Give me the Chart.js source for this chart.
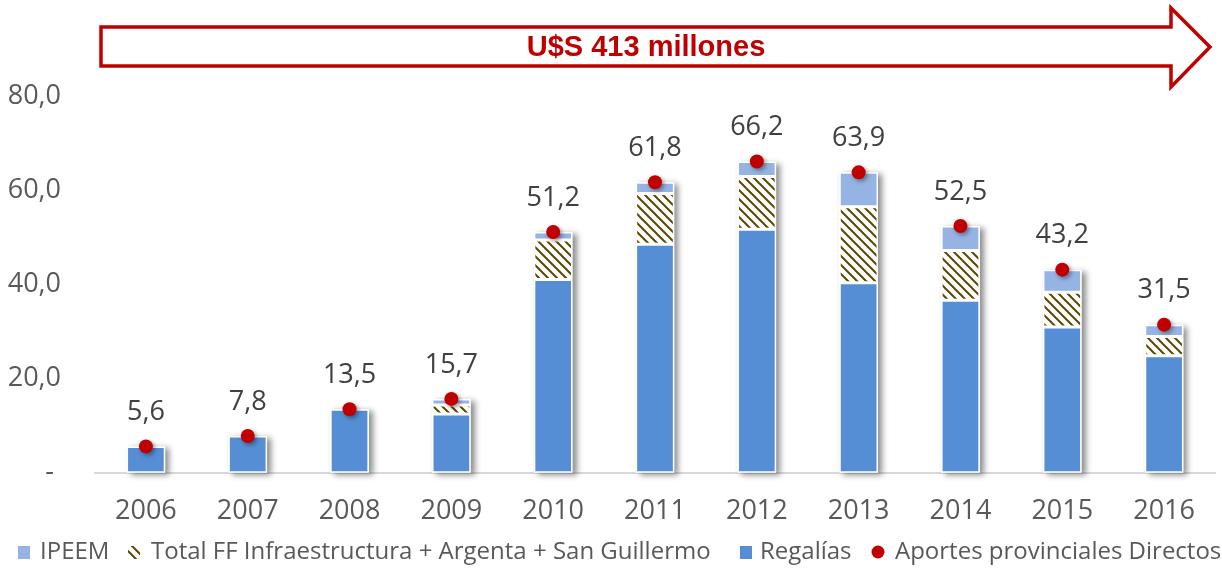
<!DOCTYPE html>
<html>
<head>
<meta charset="utf-8">
<script src="https://cdn.jsdelivr.net/npm/chart.js@4.4.1/dist/chart.umd.min.js"></script>
<style>
  html, body { margin: 0; padding: 0; background: #fff; }
  #wrap { width: 1222px; height: 568px; position: relative; }
</style>
</head>
<body>
<div id="wrap"><canvas id="chart"></canvas></div>
<script>
const years = ['2006', '2007', '2008', '2009', '2010', '2011', '2012', '2013', '2014', '2015', '2016'];
const regalias = [5.6, 7.8, 13.5, 12.5, 41.1, 48.6, 51.8, 40.4, 36.7, 31.0, 24.9];
const totalFF = [null, null, null, 1.9, 8.4, 10.8, 11.2, 16.2, 10.6, 7.4, 4.1];
const ipeem = [null, null, null, 1.3, 1.7, 2.4, 3.2, 7.3, 5.2, 4.8, 2.5];
const aportes = [5.6, 7.8, 13.5, 15.7, 51.2, 61.8, 66.2, 63.9, 52.5, 43.2, 31.5];
const yTicks = [0, 20, 40, 60, 80];
const bannerText = 'U$S 413 millones';

const BLUE = '#558ed5';
const LIGHT = '#95b3e3';
const RED = '#c00000';
const FONT = "'Open Sans', sans-serif";

// diagonal hatch like the Excel "dark downward diagonal" fill
function makeHatch(ctx) {
  const p = document.createElement('canvas');
  p.width = 9; p.height = 9;
  const g = p.getContext('2d');
  g.fillStyle = '#fff';
  g.fillRect(0, 0, 9, 9);
  g.strokeStyle = '#5a4800';
  g.lineWidth = 2;
  g.beginPath();
  g.moveTo(-1, -1); g.lineTo(10, 10);
  g.moveTo(-1, 8); g.lineTo(1, 10);
  g.moveTo(8, -1); g.lineTo(10, 1);
  g.stroke();
  return ctx.createPattern(p, 'repeat');
}

const fmt = v => v.toFixed(1).replace('.', ',');

const canvas = document.getElementById('chart');
const hatch = makeHatch(canvas.getContext('2d'));

// soft drop shadow behind each whole stacked column
const columnShadow = {
  id: 'columnShadow',
  beforeDatasetsDraw(chart) {
    const ctx = chart.ctx;
    const bars = chart.data.datasets.map((d, i) => d.type === 'bar' ? chart.getDatasetMeta(i) : null).filter(Boolean);
    years.forEach((_, j) => {
      let top = Infinity, base = 0, x = 0, w = 0;
      bars.forEach(m => {
        const el = m.data[j];
        if (!el || el.skip || isNaN(el.y)) return;
        top = Math.min(top, el.y);
        base = Math.max(base, el.base);
        x = el.x; w = el.width;
      });
      if (!isFinite(top)) return;
      ctx.save();
      ctx.shadowColor = 'rgba(0,0,0,0.45)';
      ctx.shadowBlur = 6;
      ctx.shadowOffsetX = 4;
      ctx.shadowOffsetY = 2;
      ctx.fillStyle = '#fff';
      ctx.fillRect(x - w / 2, top, w, base - top);
      ctx.restore();
    });
  },
  beforeDatasetDraw(chart, args) {
    if (chart.data.datasets[args.index].type !== 'line') return;
    const ctx = chart.ctx;
    ctx.save();
    ctx.shadowColor = 'rgba(0,0,0,0.4)';
    ctx.shadowBlur = 4;
    ctx.shadowOffsetX = 2;
    ctx.shadowOffsetY = 2;
  },
  afterDatasetDraw(chart, args) {
    if (chart.data.datasets[args.index].type !== 'line') return;
    chart.ctx.restore();
  }
};

// totals written above the red dots
const totalLabels = {
  id: 'totalLabels',
  afterDatasetsDraw(chart) {
    const idx = chart.data.datasets.findIndex(d => d.type === 'line');
    const meta = chart.getDatasetMeta(idx);
    const ctx = chart.ctx;
    ctx.save();
    ctx.font = `27px ${FONT}`;
    ctx.fillStyle = '#404040';
    ctx.textAlign = 'center';
    ctx.textBaseline = 'middle';
    meta.data.forEach((pt, j) => {
      ctx.fillText(fmt(aportes[j]), pt.x, pt.y - 34);
    });
    ctx.restore();
  }
};

// red outlined arrow with the cumulative amount
const banner = {
  id: 'banner',
  afterDraw(chart) {
    const ctx = chart.ctx;
    ctx.save();
    ctx.strokeStyle = RED;
    ctx.lineWidth = 3.5;
    ctx.lineJoin = 'miter';
    ctx.beginPath();
    ctx.moveTo(101, 27);
    ctx.lineTo(1171, 27);
    ctx.lineTo(1171, 8);
    ctx.lineTo(1210, 47);
    ctx.lineTo(1171, 87);
    ctx.lineTo(1171, 66);
    ctx.lineTo(101, 66);
    ctx.closePath();
    ctx.stroke();
    ctx.font = `bold 29px 'Liberation Sans', Arial, sans-serif`;
    ctx.fillStyle = RED;
    ctx.textAlign = 'center';
    ctx.textBaseline = 'middle';
    ctx.fillText(bannerText, 646, 48);
    ctx.restore();
  }
};

// one-line legend, clipped at the right edge like the original
const legendRow = {
  id: 'legendRow',
  afterDraw(chart) {
    const ctx = chart.ctx;
    const y = 552;
    ctx.save();
    ctx.font = `24px ${FONT}`;
    ctx.textBaseline = 'middle';
    const items = [
      { label: 'IPEEM', icon: 18, text: 40 },
      { label: 'Total FF Infraestructura + Argenta + San Guillermo', icon: 128, text: 151 },
      { label: 'Regalías', icon: 740, text: 760 },
      { label: 'Aportes provinciales Directos', icon: 872, text: 895 }
    ];
    items.forEach(it => {
      const ds = chart.data.datasets.find(d => d.label === it.label);
      if (ds.type === 'line') {
        ctx.fillStyle = RED;
        ctx.beginPath();
        ctx.arc(it.icon + 6, y, 6.5, 0, Math.PI * 2);
        ctx.fill();
      } else {
        ctx.fillStyle = ds.backgroundColor;
        ctx.fillRect(it.icon, y - 6, 12, 13);
      }
      ctx.fillStyle = '#595959';
      ctx.fillText(it.label, it.text, y);
    });
    ctx.restore();
  }
};

new Chart(canvas, {
  data: {
    labels: years,
    datasets: [
      { type: 'line', label: 'Aportes provinciales Directos', data: aportes, order: 0,
        showLine: false, pointRadius: 7, pointHoverRadius: 7,
        pointBackgroundColor: RED, pointBorderColor: RED, pointBorderWidth: 0 },
      { type: 'bar', label: 'Regalías', data: regalias, order: 1, stack: 's',
        backgroundColor: BLUE, borderColor: '#fff', borderWidth: 1.5, borderSkipped: false },
      { type: 'bar', label: 'Total FF Infraestructura + Argenta + San Guillermo', data: totalFF, order: 1, stack: 's',
        backgroundColor: hatch, borderColor: '#fff', borderWidth: 1.5, borderSkipped: false },
      { type: 'bar', label: 'IPEEM', data: ipeem, order: 1, stack: 's',
        backgroundColor: LIGHT, borderColor: '#fff', borderWidth: 1.5, borderSkipped: false }
    ]
  },
  options: {
    responsive: true,
    maintainAspectRatio: false,
    animation: false,
    layout: { padding: { top: 96.7, right: 3, bottom: 35.3, left: 0 } },
    datasets: { bar: { categoryPercentage: 1, barPercentage: 0.38 } },
    plugins: { legend: { display: false }, tooltip: { enabled: false } },
    scales: {
      x: {
        stacked: true,
        grid: { display: false, drawTicks: false },
        border: { display: true, color: '#d9d9d9', width: 2 },
        ticks: { color: '#595959', font: { family: FONT, size: 27 }, padding: 22 },
        afterFit: s => { s.height = 60; }
      },
      y: {
        stacked: true,
        min: 0, max: 80,
        grid: { display: false, drawTicks: false },
        border: { display: false },
        afterBuildTicks: s => { s.ticks = yTicks.map(v => ({ value: v })); },
        ticks: { color: '#595959', font: { family: FONT, size: 27 }, padding: 34,
          callback: v => v === 0 ? '- ' : fmt(v) },
        afterFit: s => { s.width = 95; }
      }
    }
  },
  plugins: [columnShadow, totalLabels, banner, legendRow]
});
</script>
</body>
</html>
